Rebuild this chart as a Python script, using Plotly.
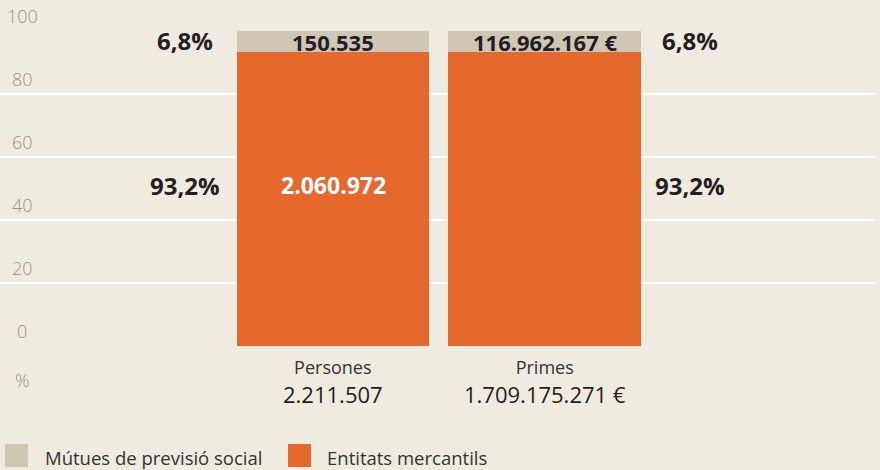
import plotly.graph_objects as go

categories = ["Persones", "Primes"]
category_totals = ["2.211.507", "1.709.175.271 €"]
series_names = ["Mútues de previsió social", "Entitats mercantils"]
mutues_pct = [6.8, 6.8]
mercantils_pct = [93.2, 93.2]
mutues_labels = ["150.535", "116.962.167 €"]
mercantils_labels = ["2.060.972", ""]
pct_labels_mutues = ["6,8%", "6,8%"]
pct_labels_merc = ["93,2%", "93,2%"]
y_ticks = [0, 20, 40, 60, 80, 100]

BG = "#f0ebe1"
GREY = "#cfc6b6"
ORANGE = "#e5682c"
DARK = "#231f20"
TEXT = "#333333"
TICK = "#a38f84"
FONT = "'Open Sans', Lato, sans-serif"

PW = 875.0   # plot width in px
PH = 315.0   # plot height in px
Y0 = 346.0   # pixel row of y=0

def px_x(p):
    return p / PW

def px_y(p):
    return (Y0 - p) / PH

xs = [0, 1]
fig = go.Figure()
fig.add_trace(go.Bar(x=xs, y=mercantils_pct, name=series_names[1], marker_color=ORANGE,
                     width=0.908, marker_line_width=0, showlegend=False))
fig.add_trace(go.Bar(x=xs, y=mutues_pct, name=series_names[0], marker_color=GREY,
                     width=0.908, marker_line_width=0, showlegend=False))

ann = []
# tick labels above gridlines
for t in y_ticks:
    ann.append(dict(x=px_x(22), xref="paper", y=t, yref="y", yshift=15, text=str(t), showarrow=False,
                    font=dict(family=FONT, size=18, color=TICK, weight=300),
                    xanchor="center", yanchor="middle"))
ann.append(dict(x=px_x(22), y=px_y(380), xref="paper", yref="paper", text="%", showarrow=False,
                font=dict(family=FONT, size=18, color=TICK, weight=300),
                xanchor="center", yanchor="middle"))

# labels inside bars
for i in range(2):
    ann.append(dict(x=xs[i], y=mercantils_pct[i] + mutues_pct[i] / 2, text=f"<b>{mutues_labels[i]}</b>",
                    showarrow=False, font=dict(family=FONT, size=22, color=DARK), yanchor="middle"))
    if mercantils_labels[i]:
        ann.append(dict(x=xs[i], y=51, text=f"<b>{mercantils_labels[i]}</b>",
                        showarrow=False, font=dict(family=FONT, size=23, color="white"), yanchor="middle"))

# outside percentage labels
side_x = [-0.70, 1.688]
for i in range(2):
    ann.append(dict(x=side_x[i], y=mercantils_pct[i] + mutues_pct[i] / 2 + 0.3, text=f"<b>{pct_labels_mutues[i]}</b>",
                    showarrow=False, font=dict(family=FONT, size=24, color=DARK), yanchor="middle"))
    ann.append(dict(x=side_x[i], y=51, text=f"<b>{pct_labels_merc[i]}</b>",
                    showarrow=False, font=dict(family=FONT, size=24, color=DARK), yanchor="middle"))

# category labels (name + total in one block)
for i in range(2):
    ann.append(dict(x=xs[i], y=0, yshift=-7,
                    text=f"<span style='font-size:18px;color:{TEXT}'>{categories[i]}</span><br>{category_totals[i]}",
                    showarrow=False, font=dict(family=FONT, size=22, color=DARK), yanchor="top"))

shapes = []
# legend
legend_items = [(series_names[0], GREY, 5, 43), (series_names[1], ORANGE, 288, 325)]
for name, col, sx, tx in legend_items:
    shapes.append(dict(type="rect", xref="paper", yref="paper",
                       x0=px_x(sx), x1=px_x(sx + 23),
                       y0=px_y(467), y1=px_y(444),
                       fillcolor=col, line_width=0))
    ann.append(dict(x=px_x(tx), y=px_y(457), xref="paper", yref="paper", text=name,
                    showarrow=False, font=dict(family=FONT, size=18.5, color=TEXT),
                    xanchor="left", yanchor="middle"))

fig.update_layout(
    width=880, height=470,
    margin=dict(l=0, r=5, t=31, b=124),
    paper_bgcolor=BG, plot_bgcolor=BG,
    barmode="stack", bargap=0,
    xaxis=dict(range=[-333 / 211.5, 542 / 211.5], showticklabels=False, showgrid=False,
               zeroline=False, fixedrange=True),
    yaxis=dict(range=[0, 100], tickvals=y_ticks, showticklabels=False, showgrid=True,
               gridcolor="white", gridwidth=2, zeroline=False, fixedrange=True),
    annotations=ann, shapes=shapes, showlegend=False,
)

fig.write_html("out.html", post_script="document.body.style.margin='0';document.body.style.background='#f0ebe1';",
               config={"displayModeBar": False})
